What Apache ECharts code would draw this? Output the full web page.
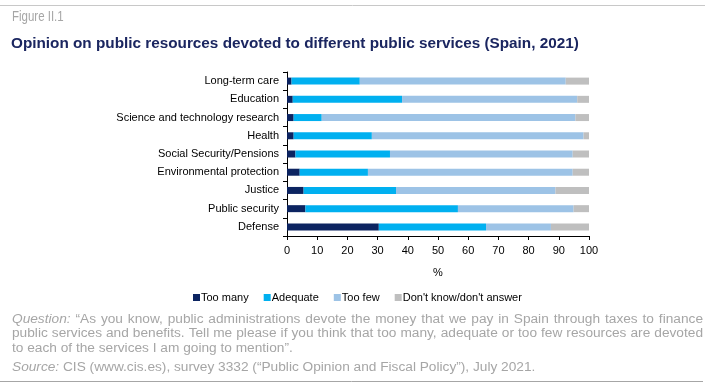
<!DOCTYPE html>
<html><head><meta charset="utf-8">
<script src="https://cdn.jsdelivr.net/npm/echarts@6/dist/echarts.min.js"></script>
<style>html,body{margin:0;padding:0;background:#fff}#c{width:715px;height:389px}</style>
</head><body><div id="c"></div>
<script>
const categories = ["Long-term care","Education","Science and technology research","Health","Social Security/Pensions","Environmental protection","Justice","Public security","Defense"];
const tooMany  = [1.5, 1.9, 2.2, 2.2, 2.8, 4.2, 5.5, 6.1, 30.4];
const adequate = [22.6, 36.2, 9.3, 25.9, 31.3, 22.6, 30.6, 50.5, 35.5];
const tooFew   = [68.2, 58.0, 84.0, 70.1, 60.5, 67.8, 52.8, 38.3, 21.5];
const dontKnow = [7.7, 3.9, 4.5, 1.8, 5.4, 5.4, 11.1, 5.1, 12.6];
const seriesNames = ["Too many","Adequate","Too few","Don't know/don't answer"];
const colors = ["#0c2461","#00b0f0","#9dc3e6","#bfbfbf"];
const xTicks = [0,10,20,30,40,50,60,70,80,90,100];
const noteLines = [
  "\u201cAs you know, public administrations devote the money that we pay in Spain through taxes to finance",
  "public services and benefits. Tell me please if you think that too many, adequate or too few resources are devoted",
  "to each of the services I am going to mention\u201d."
];

const F = 'Liberation Sans, Arial, sans-serif';
const NOTE_SIZE = 13.7;
const GREY = '#a6a6a6';
const ctx = document.createElement('canvas').getContext('2d');
function w(txt, font) { ctx.font = font; return ctx.measureText(txt).width; }

// Justified footnote text
const noteGraphics = [];
const L = 12, R = 703, top0 = 312, lh = 14.5;
const fN = NOTE_SIZE + 'px ' + F, fI = 'italic ' + NOTE_SIZE + 'px ' + F;
noteLines.forEach((line, li) => {
  const words = line.split(' ').map(t => ({t, font: fN}));
  if (li === 0) words.unshift({t: 'Question:', font: fI});
  const widths = words.map(o => w(o.t, o.font));
  const total = widths.reduce((a, b) => a + b, 0);
  const justify = li < noteLines.length - 1;
  const gap = justify ? (R - L - total) / (words.length - 1) : w(' ', fN);
  let x = L;
  words.forEach((o, i) => {
    noteGraphics.push({type: 'text', x, y: top0 + li * lh, style: {text: o.t, font: o.font, fill: GREY, textVerticalAlign: 'top'}});
    x += widths[i] + gap;
  });
});

const chart = echarts.init(document.getElementById('c'));
const mk = (name, data, i) => ({
  name, type: 'bar', stack: 'all', data, barWidth: 7,
  itemStyle: {color: colors[i]}, silent: true
});
chart.setOption({
  animation: false,
  textStyle: {fontFamily: F},
  grid: {left: 287, right: 126, top: 72, bottom: 153, containLabel: false},
  xAxis: {
    type: 'value', min: xTicks[0], max: xTicks[xTicks.length-1], interval: 10,
    name: '%', nameLocation: 'middle', nameGap: 31,
    nameTextStyle: {color: '#000', fontSize: 11, fontFamily: F},
    axisLine: {show: true, lineStyle: {color: '#000', width: 1}},
    axisTick: {show: true, length: 4, lineStyle: {color: '#000'}},
    axisLabel: {color: '#000', fontSize: 11, margin: 9, fontFamily: F},
    splitLine: {show: false}
  },
  yAxis: {
    type: 'category', data: categories, inverse: true,
    axisLine: {show: true, lineStyle: {color: '#000', width: 1}},
    axisTick: {show: true, length: 4, lineStyle: {color: '#000'}},
    axisLabel: {color: '#000', fontSize: 11, margin: 8, fontFamily: F}
  },
  legend: {
    top: 287, left: 188, itemWidth: 7, itemHeight: 7, itemGap: 15,
    icon: 'rect', textStyle: {color: '#000', fontSize: 11, fontFamily: F, padding: [0,0,0,-4]},
    data: seriesNames
  },
  series: [mk(seriesNames[0], tooMany, 0), mk(seriesNames[1], adequate, 1), mk(seriesNames[2], tooFew, 2), mk(seriesNames[3], dontKnow, 3)],
  graphic: [
    {type: 'line', shape: {x1: 0, y1: 5.5, x2: 705, y2: 5.5}, style: {stroke: '#c8c8c8', lineWidth: 1}},
    {type: 'text', x: 12, y: 10, scaleX: 0.82, style: {text: 'Figure II.1', fill: GREY, font: '14px ' + F, textVerticalAlign: 'top'}},
    {type: 'text', x: 11, y: 36, style: {text: 'Opinion on public resources devoted to different public services (Spain, 2021)', fill: '#1b2660', font: 'bold 15.3px ' + F, textVerticalAlign: 'top'}},
    ...noteGraphics,
    {type: 'text', x: 12, y: 360, style: {
      rich: {i: {fill: GREY, font: fI}, n: {fill: GREY, font: fN}},
      text: '{i|Source:}{n| CIS (www.cis.es), survey 3332 (\u201cPublic Opinion and Fiscal Policy\u201d), July 2021.}'
    }},
    {type: 'line', shape: {x1: 0, y1: 381.5, x2: 703, y2: 381.5}, style: {stroke: GREY, lineWidth: 1}}
  ]
});
</script></body></html>
